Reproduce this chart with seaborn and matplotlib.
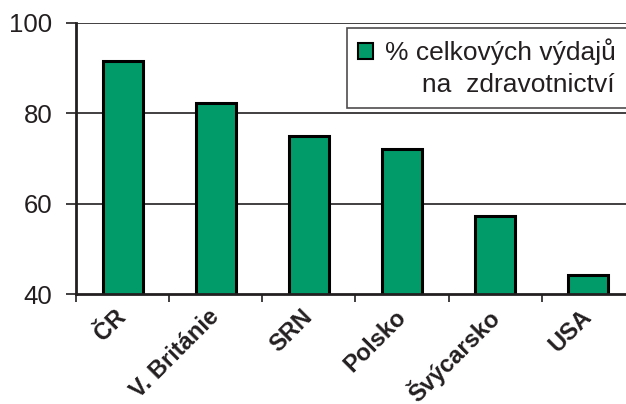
import numpy as np
import pandas as pd
import seaborn as sns
import matplotlib.pyplot as plt
from matplotlib.patches import Patch
from matplotlib.lines import Line2D

# data
countries = ["ČR", "V. Británie", "SRN", "Polsko", "Švýcarsko", "USA"]
share = [91.5, 82.2, 75.0, 72.2, 57.2, 44.3]
legend_lines = ["% celkových výdajů", "     na  zdravotnictví"]
y_ticks = [40, 60, 80, 100]

sns.set_style("white")
plt.rcParams['font.family'] = ['Liberation Sans', 'DejaVu Sans']

ink = "#231f20"
green = "#009B68"

df = pd.DataFrame({"country": countries, "share": share})

fig = plt.figure(figsize=(6.26, 4.04), dpi=100)
ax = fig.add_axes([76 / 626, 1 - 294 / 404, 559 / 626, 271 / 404])

sns.barplot(data=df, x="country", y="share", color=green, saturation=1,
            edgecolor="black", linewidth=2.2, width=0.43, ax=ax)

ax.set_ylim(40, 100)
ax.set_xlim(-0.5, len(countries) - 0.5)
ax.set_yticks(y_ticks)
for v in y_ticks[1:]:
    ax.axhline(v, color=ink, lw=1.2, zorder=0)

# y axis
ax.tick_params(axis="y", direction="out", length=7, width=1.2, color=ink,
               pad=10, labelsize=18.5, labelcolor=ink, left=True)

# x axis: labels at centres, ticks between categories
ax.set_xticks(np.arange(len(countries)))
ax.set_xticklabels(countries, rotation=45, ha="right", va="center",
                   rotation_mode="anchor", fontweight="bold", fontsize=17, color=ink)
ax.tick_params(axis="x", length=0, pad=14)
ax.set_xticks(np.arange(len(countries) + 1) - 0.5, minor=True)
ax.tick_params(axis="x", which="minor", direction="out", length=6, width=1.2,
               color=ink, bottom=True)

ax.set_xlabel("")
ax.set_ylabel("")
for side in ["top", "right"]:
    ax.spines[side].set_visible(False)
for side in ["left", "bottom"]:
    ax.spines[side].set_color(ink)
    ax.spines[side].set_linewidth(2)

handles = [Patch(facecolor=green, edgecolor="black", linewidth=1.5),
           Line2D([], [], color="none")]
leg = fig.legend(handles, legend_lines, loc="upper left",
                 bbox_to_anchor=(347 / 626, 1 - 28 / 404), borderaxespad=0,
                 fontsize=19, frameon=True, fancybox=False, edgecolor=ink,
                 handlelength=0.6, handleheight=0.6, handletextpad=0.45,
                 labelspacing=0.3, borderpad=0.4, labelcolor=ink)
leg.get_frame().set_linewidth(1.2)

fig.savefig("out.png", dpi=100)
